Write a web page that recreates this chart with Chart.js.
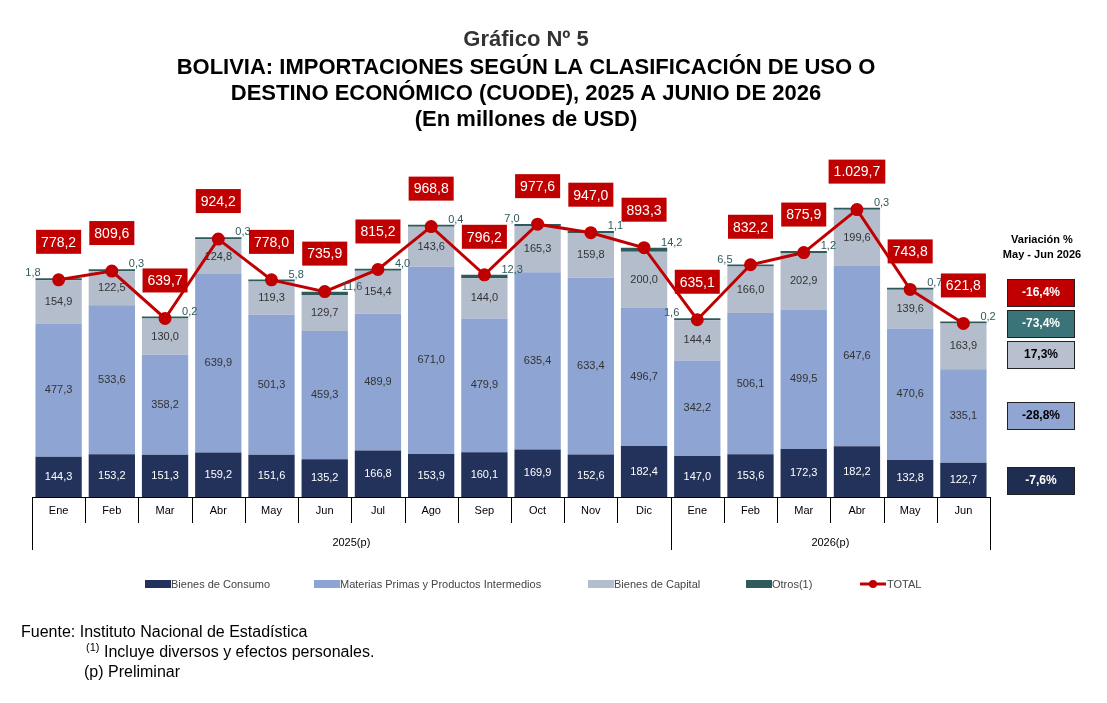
<!DOCTYPE html>
<html><head><meta charset="utf-8">
<script src="https://cdn.jsdelivr.net/npm/chart.js@4"></script>
<style>html,body{margin:0;padding:0;background:#fff}#w{width:1107px;height:703px;position:relative}</style>
</head><body><div id="w"><canvas id="c" width="1107" height="703"></canvas></div>
<script>
const months=["Ene","Feb","Mar","Abr","May","Jun","Jul","Ago","Sep","Oct","Nov","Dic","Ene","Feb","Mar","Abr","May","Jun"];
const years=[{label:"2025(p)",from:0,to:11},{label:"2026(p)",from:12,to:17}];
const consumo=[144.3,153.2,151.3,159.2,151.6,135.2,166.8,153.9,160.1,169.9,152.6,182.4,147.0,153.6,172.3,182.2,132.8,122.7];
const materias=[477.3,533.6,358.2,639.9,501.3,459.3,489.9,671.0,479.9,635.4,633.4,496.7,342.2,506.1,499.5,647.6,470.6,335.1];
const capital=[154.9,122.5,130.0,124.8,119.3,129.7,154.4,143.6,144.0,165.3,159.8,200.0,144.4,166.0,202.9,199.6,139.6,163.9];
const otros=[1.8,0.3,0.2,0.3,5.8,11.6,4.0,0.4,12.3,7.0,1.1,14.2,1.6,6.5,1.2,0.3,0.7,0.2];
const total=[778.2,809.6,639.7,924.2,778.0,735.9,815.2,968.8,796.2,977.6,947.0,893.3,635.1,832.2,875.9,1029.7,743.8,621.8];
const variacion=["-16,4%","-73,4%","17,3%","-28,8%","-7,6%"];
const C={cons:"#22325a",mat:"#8ea4d2",cap:"#b4bdcc",otr:"#2e5a5c",tot:"#c00000"};
const fmt=v=>{const s=v.toFixed(1).replace(".",",");const p=s.split(",");return p[0].replace(/\B(?=(\d{3})+(?!\d))/g,".")+","+p[1];};
const F="'Liberation Sans',Arial,sans-serif";
const deco={id:"deco",afterDraw(ch){
 const g=ch.ctx,x=ch.scales.x,y=ch.scales.y,a=ch.chartArea;
 g.save();g.textAlign="center";g.textBaseline="alphabetic";g.fillStyle="#333";
 g.font="bold 22px "+F;g.fillText("Gráfico Nº 5",526,46);
 g.fillStyle="#000";g.font="bold 22px "+F;
 ["BOLIVIA: IMPORTACIONES SEGÚN LA CLASIFICACIÓN DE USO O","DESTINO ECONÓMICO (CUODE), 2025 A JUNIO DE 2026","(En millones de USD)"].forEach((t,i)=>g.fillText(t,526,74+i*26));
 const metas=[0,1,2].map(i=>ch.getDatasetMeta(i));
 const arrs=[consumo,materias,capital];const cols=["#fff","#333","#333"];
 g.font="11px "+F;g.textBaseline="middle";
 metas.forEach((m,di)=>m.data.forEach((b,i)=>{g.fillStyle=cols[di];g.fillText(fmt(arrs[di][i]),b.x,(b.y+b.base)/2);}));
 const mo=ch.getDatasetMeta(3);g.fillStyle=C.otr;g.font="11px "+F;
 mo.data.forEach((b,i)=>{const left=(i==0||i==9||i==12||i==13);g.textAlign=left?"right":"left";g.fillText(fmt(otros[i]),left?b.x-18:b.x+17,b.y-5);});
 const mt=ch.getDatasetMeta(4);g.font="14px "+F;g.textAlign="center";
 mt.data.forEach((p,i)=>{const t=fmt(total[i]);const w=g.measureText(t).width+10;const cy=p.y-38;g.fillStyle=C.tot;g.fillRect(p.x-w/2,cy-12,w,24);g.fillStyle="#fff";g.fillText(t,p.x,cy+1);});
 g.strokeStyle="#000";g.lineWidth=1;g.font="11px "+F;g.fillStyle="#000";
 const bw=(x.getPixelForValue(1)-x.getPixelForValue(0));
 g.beginPath();g.moveTo(a.left,a.bottom+0.5);g.lineTo(a.right,a.bottom+0.5);g.stroke();
 months.forEach((m,i)=>{const cx=x.getPixelForValue(i);g.fillText(m,cx,a.bottom+14);
  const l=Math.round(cx-bw/2)+0.5;g.beginPath();g.moveTo(l,a.bottom);g.lineTo(l,a.bottom+26);g.stroke();});
 years.forEach(yr=>{const l=x.getPixelForValue(yr.from)-bw/2,r=x.getPixelForValue(yr.to)+bw/2;
  [l,r].forEach(v=>{g.beginPath();g.moveTo(Math.round(v)+0.5,a.bottom);g.lineTo(Math.round(v)+0.5,a.bottom+53);g.stroke();});
  g.fillText(yr.label,(l+r)/2,a.bottom+46);});
 const items=[["Bienes de Consumo",C.cons,145],["Materias Primas y Productos Intermedios",C.mat,314],["Bienes de Capital",C.cap,588],["Otros(1)",C.otr,746]];
 g.textAlign="left";g.font="11px "+F;
 items.forEach(it=>{g.fillStyle=it[1];g.fillRect(it[2],580,26,8);g.fillStyle="#444";g.fillText(it[0],it[2]+26,585);});
 g.strokeStyle=C.tot;g.lineWidth=3;g.beginPath();g.moveTo(860,584);g.lineTo(886,584);g.stroke();
 g.fillStyle=C.tot;g.beginPath();g.arc(873,584,4,0,7);g.fill();g.fillStyle="#444";g.fillText("TOTAL",887,585);
 g.textAlign="center";g.fillStyle="#000";g.font="bold 11px "+F;
 g.fillText("Variación %",1042,240);g.fillText("May - Jun 2026",1042,255);
 const vb=[[293,C.tot,"#fff"],[324,"#3a7378","#fff"],[355,"#b8c0cf","#000"],[416,"#91a5d3","#000"],[481,"#1f2d50","#fff"]];
 vb.forEach((v,i)=>{g.fillStyle=v[1];g.fillRect(1007,v[0]-14,68,28);g.strokeStyle="#222";g.lineWidth=1;g.strokeRect(1007.5,v[0]-13.5,67,27);
  g.fillStyle=v[2];g.font="bold 12px "+F;g.fillText(variacion[i],1041,v[0]);});
 g.textAlign="left";g.fillStyle="#000";g.font="16px "+F;g.textBaseline="alphabetic";
 g.fillText("Fuente: Instituto Nacional de Estadística",21,637);
 g.font="11px "+F;g.fillText("(1)",86,651);g.font="16px "+F;g.fillText("Incluye diversos y efectos personales.",104,657);
 g.fillText("(p) Preliminar",84,677);
 g.restore();}};
new Chart(document.getElementById("c"),{
 data:{labels:months,datasets:[
  {type:"bar",label:"Bienes de Consumo",data:consumo,backgroundColor:C.cons,stack:"s",order:2},
  {type:"bar",label:"Materias",data:materias,backgroundColor:C.mat,stack:"s",order:2},
  {type:"bar",label:"Capital",data:capital,backgroundColor:C.cap,stack:"s",order:2},
  {type:"bar",label:"Otros",data:otros,backgroundColor:C.otr,stack:"s",order:2,minBarLength:2},
  {type:"line",label:"TOTAL",data:total,borderColor:C.tot,backgroundColor:C.tot,borderWidth:3,pointRadius:5,pointBackgroundColor:C.tot,order:1}]},
 options:{responsive:false,animation:false,devicePixelRatio:1,
  layout:{padding:{left:32,right:117,top:190,bottom:206}},
  datasets:{bar:{barPercentage:0.87,categoryPercentage:1}},
  plugins:{legend:{display:false},tooltip:{enabled:false}},
  scales:{x:{display:false,stacked:true},y:{display:false,stacked:true,min:0,max:1100}}},
 plugins:[deco]});
</script></body></html>
